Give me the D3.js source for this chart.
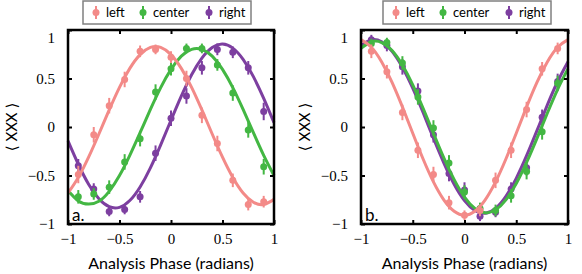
<!DOCTYPE html>
<html><head><meta charset="utf-8">
<script src="https://cdn.jsdelivr.net/npm/d3@7"></script>
<style>
body{margin:0;background:#fff;}
svg{display:block;}
.tick text{font-family:"Liberation Serif","Times New Roman",serif;font-size:15px;fill:#000;}
</style></head>
<body><svg id="chart" width="582" height="274"></svg>
<script>
// ---------- data ----------
const seriesNames = ["left","center","right"];
const seriesColors = ["#f38a88","#43b743","#7d3fa0"];
const xTicks = [-1,-0.5,0,0.5,1];
const yTicks = [-1,-0.5,0,0.5,1];
const phases = [-0.9,-0.75,-0.6,-0.45,-0.3,-0.15,0,0.15,0.3,0.45,0.6,0.75,0.9];
const fitPhases = [-1,-0.9,-0.8,-0.7,-0.6,-0.5,-0.4,-0.3,-0.2,-0.1,0,0.1,0.2,0.3,0.4,0.5,0.6,0.7,0.8,0.9,1];

// panel a
const aLeft   = [-0.49,-0.08,0.22,0.49,0.78,0.80,0.72,0.50,0.12,-0.17,-0.55,-0.80,-0.77];
const aCenter = [-0.72,-0.69,-0.62,-0.36,-0.12,0.36,0.60,0.81,0.81,0.64,0.35,-0.03,-0.41];
const aRight  = [-0.40,-0.64,-0.87,-0.85,-0.72,-0.27,0.09,0.32,0.61,0.80,0.77,0.61,0.16];
const aLeftErr   = [0.09,0.08,0.08,0.08,0.06,0.05,0.06,0.08,0.08,0.08,0.07,0.06,0.06];
const aCenterErr = [0.07,0.06,0.07,0.08,0.08,0.08,0.07,0.05,0.05,0.06,0.08,0.08,0.08];
const aRightErr  = [0.07,0.06,0.05,0.05,0.06,0.08,0.08,0.08,0.07,0.06,0.06,0.07,0.09];
const aLeftFit   = [-0.680,-0.520,-0.311,-0.072,0.176,0.409,0.604,0.746,0.820,0.820,0.746,0.604,0.409,0.176,-0.072,-0.311,-0.520,-0.680,-0.776,-0.798,-0.746];
const aCenterFit = [-0.655,-0.762,-0.795,-0.766,-0.663,-0.501,-0.293,-0.059,0.181,0.406,0.594,0.730,0.801,0.801,0.730,0.594,0.406,0.181,-0.059,-0.293,-0.501];
const aRightFit  = [-0.143,-0.384,-0.590,-0.740,-0.822,-0.828,-0.758,-0.618,-0.421,-0.184,0.070,0.318,0.539,0.711,0.820,0.855,0.813,0.697,0.519,0.295,0.045];

// panel b
const bLeft   = [0.78,0.57,0.15,-0.24,-0.49,-0.78,-0.91,-0.86,-0.55,-0.24,0.18,0.60,0.81];
const bCenter = [0.86,0.87,0.66,0.31,-0.01,-0.37,-0.67,-0.84,-0.86,-0.71,-0.46,-0.05,0.45];
const bRight  = [0.90,0.84,0.62,0.37,-0.08,-0.48,-0.65,-0.92,-0.88,-0.64,-0.42,0.10,0.47];
const bLeftErr   = [0.07,0.07,0.08,0.08,0.08,0.07,0.05,0.06,0.08,0.08,0.08,0.07,0.06];
const bCenterErr = [0.05,0.05,0.07,0.08,0.08,0.08,0.07,0.06,0.06,0.07,0.08,0.08,0.08];
const bRightErr  = [0.05,0.06,0.08,0.08,0.08,0.08,0.08,0.05,0.05,0.07,0.08,0.08,0.08];
const bLeftFit   = [0.901,0.823,0.671,0.460,0.207,-0.064,-0.330,-0.566,-0.751,-0.869,-0.910,-0.869,-0.751,-0.566,-0.330,-0.064,0.207,0.460,0.671,0.823,0.901];
const bCenterFit = [0.811,0.879,0.871,0.789,0.639,0.435,0.193,-0.065,-0.318,-0.543,-0.722,-0.839,-0.885,-0.854,-0.751,-0.583,-0.365,-0.117,0.142,0.389,0.602];
const bRightFit  = [0.841,0.898,0.878,0.781,0.617,0.401,0.149,-0.116,-0.369,-0.590,-0.759,-0.861,-0.889,-0.839,-0.715,-0.529,-0.296,-0.037,0.226,0.469,0.673];

const xLabel = "Analysis Phase (radians)";
const yLabel = "\u27E8 XXX \u27E9";

// ---------- drawing ----------
const svg = d3.select("#chart");
const fmt = d => d === 0 ? "0" : (d < 0 ? "\u2212" : "") + Math.abs(d);

const panels = [
  {left:68, right:274, tag:"a.", legendX:83,
   vals:[aLeft,aCenter,aRight], errs:[aLeftErr,aCenterErr,aRightErr], fits:[aLeftFit,aCenterFit,aRightFit]},
  {left:361, right:568, tag:"b.", legendX:383,
   vals:[bLeft,bCenter,bRight], errs:[bLeftErr,bCenterErr,bRightErr], fits:[bLeftFit,bCenterFit,bRightFit]}
];
const plotTop = 30, plotBottom = 224;

panels.forEach(p => {
  const x = d3.scaleLinear().domain([-1,1]).range([p.left,p.right]);
  const y = d3.scaleLinear().domain([-1,1]).range([plotBottom,plotTop]);
  const g = svg.append("g");

  [2,1,0].forEach(i => {
    const col = seriesColors[i];
    const line = d3.line().x((d,j)=>x(fitPhases[j])).y(d=>y(d)).curve(d3.curveNatural);
    const sg = g.append("g");
    sg.selectAll("line.err").data(p.vals[i]).join("line")
      .attr("x1",(d,j)=>x(phases[j])).attr("x2",(d,j)=>x(phases[j]))
      .attr("y1",(d,j)=>y(d - p.errs[i][j])).attr("y2",(d,j)=>y(d + p.errs[i][j]))
      .attr("stroke",col).attr("stroke-width",2);
    sg.selectAll("circle").data(p.vals[i]).join("circle")
      .attr("cx",(d,j)=>x(phases[j])).attr("cy",d=>y(d)).attr("r",3.5).attr("fill",col);
    sg.append("path").datum(p.fits[i]).attr("d",line)
      .attr("fill","none").attr("stroke",col).attr("stroke-width",3);
  });

  const ax = svg.append("g");
  ax.append("g").attr("transform",`translate(0,${plotBottom})`)
    .call(d3.axisBottom(x).tickValues(xTicks).tickFormat(fmt).tickSizeInner(-4).tickSizeOuter(0).tickPadding(9));
  ax.append("g").attr("transform",`translate(0,${plotTop})`)
    .call(d3.axisTop(x).tickValues(xTicks).tickFormat("").tickSizeInner(-4).tickSizeOuter(0));
  const la = ax.append("g").attr("transform",`translate(${p.left},0)`)
    .call(d3.axisLeft(y).tickValues(yTicks).tickFormat(fmt).tickSizeInner(-4).tickSizeOuter(0).tickPadding(13));
  la.selectAll(".tick text").filter(d=>d===1).attr("dy","0.8em");
  ax.append("g").attr("transform",`translate(${p.right},0)`)
    .call(d3.axisRight(y).tickValues(yTicks).tickFormat("").tickSizeInner(-4).tickSizeOuter(0));
  ax.selectAll(".domain").remove();
  ax.selectAll(".tick line").attr("stroke","#000").attr("stroke-width",2);
  ax.append("rect").attr("x",p.left).attr("y",plotTop).attr("width",p.right-p.left).attr("height",plotBottom-plotTop)
    .attr("fill","none").attr("stroke","#000").attr("stroke-width",2.5);

  svg.append("text").attr("x",p.left+4).attr("y",plotBottom-3)
    .attr("font-family","Lato, 'Open Sans', sans-serif").attr("font-size",17).text(p.tag);

  svg.append("text").attr("x",(p.left+p.right)/2).attr("y",269).attr("text-anchor","middle")
    .attr("font-family","Lato, 'Open Sans', sans-serif").attr("font-size",16).text(xLabel);
  svg.append("text").attr("transform",`translate(${p.left-51},${y(0)}) rotate(-90)`).attr("text-anchor","middle")
    .attr("font-family","Lato, 'DejaVu Sans', sans-serif").attr("font-size",15).text(yLabel);

  const lg = svg.append("g").attr("transform",`translate(${p.legendX},1)`);
  lg.append("rect").attr("x",0).attr("y",0).attr("width",168).attr("height",23)
    .attr("fill","#fff").attr("stroke","#808080").attr("stroke-width",1.5);
  const entryX = [13,60,126];
  seriesNames.forEach((nm,i) => {
    const ex = entryX[i];
    lg.append("line").attr("x1",ex).attr("x2",ex).attr("y1",5).attr("y2",18)
      .attr("stroke",seriesColors[i]).attr("stroke-width",2);
    lg.append("circle").attr("cx",ex).attr("cy",11.5).attr("r",3.5).attr("fill",seriesColors[i]);
    lg.append("text").attr("x",ex+10).attr("y",16).attr("font-family","Lato, 'Open Sans', sans-serif")
      .attr("font-size",13).text(nm);
  });
});
</script></body></html>
